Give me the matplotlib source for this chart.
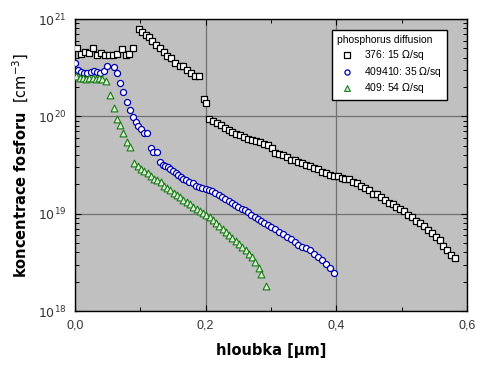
import numpy as np
import matplotlib.pyplot as plt
from matplotlib.ticker import FixedLocator, FuncFormatter, LogLocator, NullFormatter

plt.rcParams['font.family'] = ['Liberation Sans', 'DejaVu Sans']

# vzorek 376: 15 Ohm/sq
x376 = [0.003, 0.009, 0.015, 0.021, 0.028, 0.034, 0.040, 0.046, 0.052, 0.058, 0.064, 0.072, 0.078, 0.083, 0.089,
        0.098, 0.103, 0.108, 0.113, 0.118, 0.124, 0.130, 0.136, 0.141, 0.147, 0.153, 0.160, 0.166, 0.172, 0.178, 0.184, 0.190,
        0.197, 0.201,
        0.205, 0.211, 0.217, 0.223, 0.229, 0.235, 0.241, 0.247, 0.253, 0.259, 0.265, 0.271, 0.277, 0.283, 0.289, 0.295,
        0.301, 0.306, 0.312, 0.318, 0.324, 0.330, 0.336, 0.342, 0.348, 0.354, 0.360, 0.366, 0.372, 0.378, 0.384, 0.390,
        0.396, 0.402, 0.408, 0.414, 0.420, 0.426, 0.432, 0.438, 0.444, 0.450, 0.456, 0.462, 0.468, 0.474, 0.480, 0.486,
        0.492, 0.498, 0.504, 0.510, 0.516, 0.522, 0.528, 0.534, 0.540, 0.546, 0.552, 0.558, 0.564, 0.570, 0.576, 0.582]
c376 = [5.1e20, 4.4e20, 4.6e20, 4.5e20, 5.0e20, 4.3e20, 4.5e20, 4.3e20, 4.3e20, 4.3e20, 4.4e20, 4.9e20, 4.3e20, 4.4e20, 5.0e20,
        7.9e20, 7.4e20, 6.9e20, 6.5e20, 5.9e20, 5.4e20, 5.0e20, 4.6e20, 4.2e20, 4.0e20, 3.55e20, 3.3e20, 3.3e20, 3.0e20, 2.8e20, 2.6e20, 2.6e20,
        1.5e20, 1.37e20,
        9.5e19, 8.9e19, 8.5e19, 8.1e19, 7.6e19, 7.2e19, 6.9e19, 6.6e19, 6.5e19, 6.2e19, 5.9e19, 5.75e19, 5.6e19, 5.4e19, 5.25e19, 5.1e19,
        4.7e19, 4.2e19, 4.1e19, 4.0e19, 3.8e19, 3.6e19, 3.55e19, 3.4e19, 3.3e19, 3.15e19, 3.1e19, 2.95e19, 2.9e19, 2.7e19, 2.6e19, 2.5e19,
        2.45e19, 2.45e19, 2.35e19, 2.3e19, 2.25e19, 2.1e19, 2.05e19, 1.95e19, 1.85e19, 1.75e19, 1.6e19, 1.6e19, 1.5e19, 1.4e19, 1.3e19, 1.25e19,
        1.18e19, 1.12e19, 1.07e19, 9.8e18, 9.3e18, 8.5e18, 8.1e18, 7.4e18, 6.8e18, 6.3e18, 5.8e18, 5.4e18, 4.7e18, 4.2e18, 3.8e18, 3.5e18]

# vzorek 409410: 35 Ohm/sq
x409410 = [0.000, 0.004, 0.009, 0.014, 0.019, 0.024, 0.029, 0.034, 0.039, 0.044, 0.049, 0.059, 0.064,
           0.069, 0.074, 0.079, 0.084, 0.089, 0.093, 0.097, 0.101, 0.105, 0.110, 0.116, 0.120, 0.125,
           0.130, 0.134, 0.138, 0.142, 0.146, 0.150, 0.154, 0.158, 0.162, 0.166, 0.170, 0.175, 0.180, 0.185,
           0.190, 0.195, 0.200, 0.205, 0.210, 0.215, 0.220, 0.225, 0.230, 0.235, 0.240, 0.245, 0.250, 0.255,
           0.260, 0.265, 0.270, 0.275, 0.280, 0.285, 0.290, 0.295, 0.300, 0.306, 0.312, 0.318, 0.324, 0.330,
           0.336, 0.342, 0.348, 0.354, 0.360, 0.366, 0.372, 0.378, 0.384, 0.390, 0.396]
c409410 = [3.5e20, 3.0e20, 2.85e20, 2.8e20, 2.8e20, 2.85e20, 2.9e20, 2.85e20, 2.8e20, 2.9e20, 3.3e20, 3.2e20, 2.8e20,
           2.2e20, 1.8e20, 1.4e20, 1.17e20, 9.8e19, 8.7e19, 8.0e19, 7.5e19, 6.8e19, 6.8e19, 4.7e19, 4.3e19, 4.3e19,
           3.4e19, 3.2e19, 3.1e19, 3.0e19, 2.9e19, 2.75e19, 2.6e19, 2.5e19, 2.4e19, 2.3e19, 2.2e19, 2.1e19, 2.05e19, 1.95e19,
           1.9e19, 1.85e19, 1.8e19, 1.75e19, 1.7e19, 1.62e19, 1.55e19, 1.5e19, 1.42e19, 1.35e19, 1.3e19, 1.22e19, 1.18e19, 1.12e19,
           1.08e19, 1.03e19, 9.8e18, 9.3e18, 8.9e18, 8.4e18, 8.0e18, 7.6e18, 7.3e18, 6.9e18, 6.5e18, 6.2e18, 5.8e18, 5.5e18,
           5.1e18, 4.8e18, 4.6e18, 4.4e18, 4.2e18, 3.9e18, 3.6e18, 3.35e18, 3.05e18, 2.75e18, 2.45e18]

# vzorek 409: 54 Ohm/sq
x409 = [0.002, 0.007, 0.012, 0.017, 0.022, 0.027, 0.032, 0.037, 0.042, 0.047,
        0.054, 0.059, 0.064, 0.069, 0.074, 0.080, 0.084,
        0.091, 0.096, 0.101, 0.106, 0.111, 0.116, 0.121, 0.126, 0.131, 0.136, 0.141, 0.146, 0.151, 0.156,
        0.161, 0.166, 0.171, 0.176, 0.181, 0.186, 0.191, 0.196, 0.201, 0.206, 0.211, 0.216, 0.221, 0.226,
        0.231, 0.236, 0.241, 0.246, 0.251, 0.256, 0.261, 0.266, 0.271, 0.276, 0.281, 0.285, 0.293]
c409 = [2.6e20, 2.5e20, 2.5e20, 2.45e20, 2.5e20, 2.5e20, 2.45e20, 2.5e20, 2.4e20, 2.3e20,
        1.66e20, 1.22e20, 9.4e19, 8.2e19, 6.8e19, 5.5e19, 4.9e19,
        3.3e19, 3.1e19, 2.9e19, 2.75e19, 2.6e19, 2.45e19, 2.3e19, 2.2e19, 2.1e19, 1.95e19, 1.85e19, 1.75e19, 1.65e19, 1.55e19,
        1.48e19, 1.4e19, 1.32e19, 1.25e19, 1.18e19, 1.12e19, 1.07e19, 1.02e19, 9.8e18, 9.2e18, 8.6e18, 8.0e18, 7.5e18, 7.0e18,
        6.5e18, 6.1e18, 5.7e18, 5.3e18, 4.9e18, 4.6e18, 4.2e18, 3.9e18, 3.6e18, 3.2e18, 2.8e18, 2.4e18, 1.8e18]

fig = plt.figure(figsize=(5, 3.66), dpi=100)
ax = fig.add_axes([0.15, 0.150, 0.784, 0.798])
ax.set_facecolor('#c0c0c0')

ax.scatter(x376, c376, marker='s', s=23, facecolor='white', edgecolor='black', linewidth=0.9,
           label='376: 15 $\\Omega$/sq', zorder=3)
ax.scatter(x409410, c409410, marker='o', s=19, facecolor='white', edgecolor='#0000b0', linewidth=0.9,
           label='409410: 35 $\\Omega$/sq', zorder=3)
ax.scatter(x409, c409, marker='^', s=24, facecolor='#d8f0d0', edgecolor='#1a7a1a', linewidth=0.8,
           label='409: 54 $\\Omega$/sq', zorder=3)

ax.set_yscale('log')
ax.set_xlim(0, 0.6)
ax.set_ylim(1e18, 1e21)

ax.xaxis.set_major_locator(FixedLocator([0.0, 0.2, 0.4, 0.6]))
ax.xaxis.set_minor_locator(FixedLocator([0.1, 0.3, 0.5]))
ax.xaxis.set_major_formatter(FuncFormatter(lambda v, p: ('%.1f' % v).replace('.', ',')))
ax.yaxis.set_major_locator(LogLocator(base=10, numticks=10))
ax.yaxis.set_minor_locator(LogLocator(base=10, subs=np.arange(2, 10), numticks=20))
ax.yaxis.set_minor_formatter(NullFormatter())
ax.yaxis.set_major_formatter(FuncFormatter(lambda v, p: '$10^{%d}$' % round(np.log10(v))))

ax.tick_params(which='both', direction='in', top=True, right=True, colors='black', labelcolor='#333333', labelsize=9)
ax.tick_params(which='major', length=4, width=0.8, pad=6)
ax.tick_params(which='minor', length=3, width=0.7)

ax.grid(True, which='major', color='#707070', linewidth=0.9)
ax.set_axisbelow(True)
for s in ax.spines.values():
    s.set_linewidth(1.0)
    s.set_color('black')

ax.set_xlabel('hloubka [µm]', family='DejaVu Sans', fontweight='bold', fontsize=10.5, labelpad=8)
ax.set_ylabel(r'$\mathbf{koncentrace\ fosforu}$  [cm$^{-3}$]', family='DejaVu Sans', fontsize=10.5, labelpad=5)

leg = ax.legend(title='phosphorus diffusion', loc='upper right', bbox_to_anchor=(0.949, 0.962),
                borderaxespad=0, fontsize=7.5, title_fontsize=7.5, frameon=True, fancybox=False,
                edgecolor='black', framealpha=1, handletextpad=0.6, borderpad=0.5, labelspacing=0.25,
                scatterpoints=1, markerscale=0.85)
leg._legend_box.align = 'left'
leg.get_frame().set_linewidth(1.0)

fig.savefig('out.png', dpi=100)
